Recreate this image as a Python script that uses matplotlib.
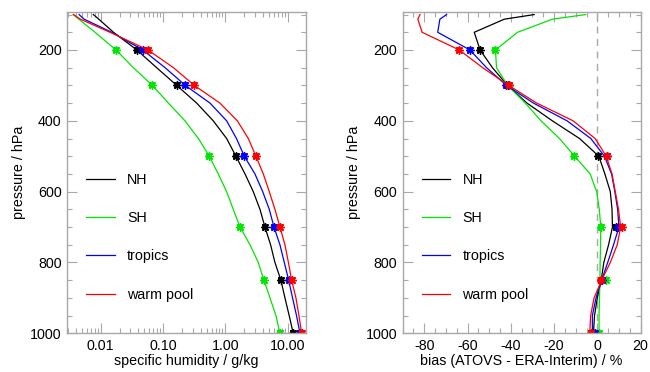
import matplotlib
matplotlib.use("Agg")
import matplotlib.pyplot as plt
from matplotlib.ticker import MultipleLocator, LogLocator, FuncFormatter, NullFormatter

plt.rcParams["font.family"] = ["Liberation Sans", "DejaVu Sans"]
plt.rcParams["axes.unicode_minus"] = False

# pressure levels of the profiles (hPa)
pressure = [100, 113, 150, 200, 250, 300, 350, 400, 450, 500,
            550, 600, 650, 700, 750, 800, 850, 900, 950, 1000]
# levels with markers
marker_levels = [200, 300, 500, 700, 850, 1000]

labels = ["NH", "SH", "tropics", "warm pool"]
colors = ["black", "#00e600", "#0000ff", "#ff0000"]

# specific humidity (g/kg)
q_nh = [0.0076, 0.0093, 0.016, 0.038, 0.079, 0.166, 0.347, 0.64, 1.05, 1.48,
        2.07, 2.81, 3.6, 4.33, 5.33, 6.26, 7.8, 9.06, 10.6, 12.3]
q_sh = [0.00364, 0.00444, 0.0081, 0.0176, 0.0334, 0.0675, 0.122, 0.225, 0.37, 0.553,
        0.77, 1.05, 1.34, 1.72, 2.49, 3.38, 4.17, 5.21, 6.5, 7.53]
q_tr = [0.00449, 0.0054, 0.015, 0.0472, 0.108, 0.228, 0.568, 1.05, 1.51, 2.02,
        2.99, 3.98, 5.08, 6.04, 7.53, 8.85, 10.4, 12.0, 13.9, 15.8]
q_wp = [0.00364, 0.0047, 0.0141, 0.0574, 0.147, 0.318, 0.82, 1.56, 2.34, 3.1,
        4.07, 5.08, 6.26, 7.53, 9.06, 10.3, 11.6, 13.6, 15.2, 16.8]

q_nh_mk = [0.038, 0.166, 1.48, 4.33, 7.8, 12.3]
q_sh_mk = [0.0176, 0.0675, 0.553, 1.72, 4.17, 7.53]
q_tr_mk = [0.0472, 0.228, 2.02, 6.04, 10.4, 15.8]
q_wp_mk = [0.0574, 0.318, 3.1, 7.53, 11.6, 16.8]

# bias ATOVS - ERA-Interim (%)
b_nh = [-29.2, -43, -56.9, -54.2, -48.5, -41.5, -32.5, -20.8, -8.2, 0.7,
        3.5, 6.0, 6.8, 7.0, 5.2, 3.0, 1.8, 0.0, -1.3, -1.8]
b_sh = [-5.4, -20.8, -36.9, -47.1, -46.6, -41.5, -33.3, -26.0, -17.5, -10.5,
        -3.3, -0.3, 0.9, 1.6, 1.5, 1.3, 1.2, 1.0, 0.8, 0.8]
b_tr = [-69.7, -72.8, -73.8, -58.9, -51.2, -42.0, -29.5, -14.0, -3.0, 3.3,
        6.6, 8.1, 9.4, 10.0, 7.5, 4.8, 2.0, -0.6, -2.3, -2.3]
b_wp = [-82.0, -83.0, -81.0, -63.8, -53.0, -41.0, -28.0, -11.2, -1.0, 4.1,
        6.8, 8.3, 9.8, 10.8, 9.2, 6.0, 2.0, -1.5, -3.1, -3.5]

b_nh_mk = [-54.2, -41.5, 0.5, 8.8, 1.9, -1.8]
b_sh_mk = [-47.1, -41.0, -10.8, 1.6, 3.9, 0.8]
b_tr_mk = [-58.9, -42.0, 4.3, 9.6, 2.0, -1.1]
b_wp_mk = [-63.8, -40.9, 4.6, 11.4, 1.9, -3.1]

FRAME = "#a8a8a8"
FS = 10.3

fig = plt.figure(figsize=(6.5, 3.72), dpi=100)
ax1 = fig.add_axes([0.1035, 0.104, 0.3672, 0.863])
ax2 = fig.add_axes([0.6195, 0.104, 0.366, 0.863])


def draw(ax, lines, marks):
    for vals, mk, lab, col in zip(lines, marks, labels, colors):
        ax.plot(vals, pressure, color=col, lw=0.9, label=lab)
        ax.plot(mk, marker_levels, ls="none", marker="s", ms=4.2,
                mew=0, color=col, alpha=0.85)
        ax.plot(mk, marker_levels, ls="none", marker=(8, 2, 0), ms=6,
                mew=1.0, color=col)


draw(ax1, [q_nh, q_sh, q_tr, q_wp], [q_nh_mk, q_sh_mk, q_tr_mk, q_wp_mk])
draw(ax2, [b_nh, b_sh, b_tr, b_wp], [b_nh_mk, b_sh_mk, b_tr_mk, b_wp_mk])

ax2.axvline(0, color=FRAME, lw=1.0, ls=(0, (5, 4)), zorder=0)

ax1.set_xscale("log")
ax1.set_xlim(0.0029, 19.7)
ax1.xaxis.set_major_locator(LogLocator(base=10))
ax1.xaxis.set_minor_locator(LogLocator(base=10, subs=range(2, 10)))
ax1.xaxis.set_major_formatter(FuncFormatter(lambda v, p: f"{v:.2f}"))
ax1.xaxis.set_minor_formatter(NullFormatter())
ax1.set_xlabel("specific humidity / g/kg", fontsize=FS, labelpad=1)

ax2.set_xlim(-90, 20)
ax2.xaxis.set_major_locator(MultipleLocator(20))
ax2.xaxis.set_minor_locator(MultipleLocator(5))
ax2.set_xlabel("bias (ATOVS - ERA-Interim) / %", fontsize=FS, labelpad=1)

for ax in (ax1, ax2):
    ax.set_ylim(1000, 93.5)
    ax.yaxis.set_major_locator(MultipleLocator(200))
    ax.yaxis.set_minor_locator(MultipleLocator(50))
    ax.set_ylabel("pressure / hPa", fontsize=FS, labelpad=3)
    ax.tick_params(which="both", direction="in", top=True, right=True,
                   color=FRAME, labelsize=FS, labelcolor="black", width=0.8)
    ax.tick_params(which="major", length=7, pad=4)
    ax.tick_params(which="minor", length=3.5)
    for s in ax.spines.values():
        s.set_color(FRAME)
        s.set_linewidth(1.0)
    ax.legend(loc="upper left", bbox_to_anchor=(0.08, 0.5), frameon=False,
              fontsize=FS, handlelength=2.0, handletextpad=0.85,
              labelspacing=1.7, borderpad=0, borderaxespad=0)

fig.savefig("out.png", dpi=100)
